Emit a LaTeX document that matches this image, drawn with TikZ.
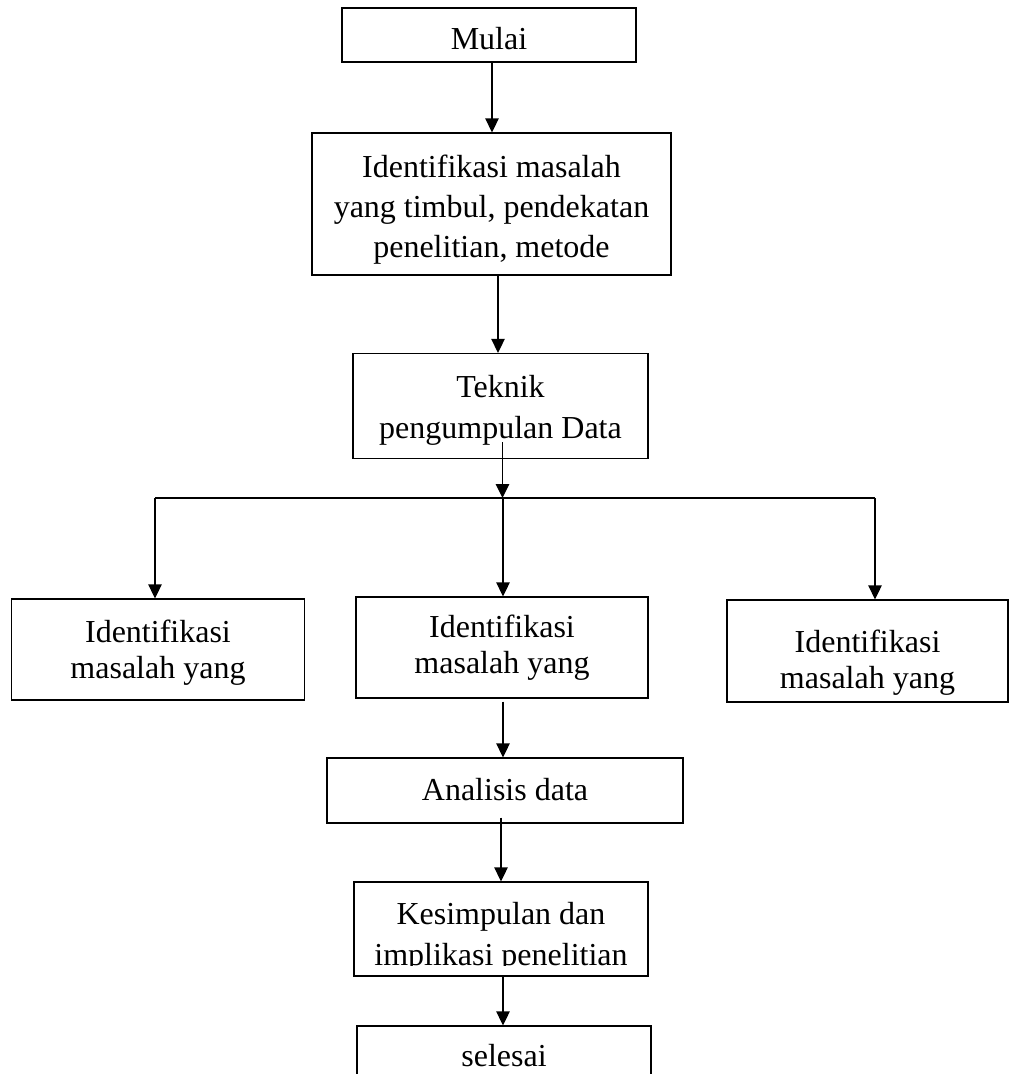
\documentclass[tikz,border=0pt]{standalone}
\usepackage{fontspec}
\setmainfont{Liberation Serif}
\usetikzlibrary{arrows.meta,calc}
\begin{document}
\begin{tikzpicture}[x=1pt,y=-1pt,
  box/.style={draw, line width=1.3pt, rectangle, inner sep=0pt},
  txt/.style={inner sep=0pt, align=center, font=\fontsize{32}{41}\selectfont},
  mtxt/.style={inner sep=0pt, align=center, font=\fontsize{32}{40}\selectfont},
  stxt/.style={inner sep=0pt, align=center, font=\fontsize{32}{36}\selectfont},
  arr/.style={line width=1.3pt, -{Triangle[length=14pt,width=13.5pt]}},
  ln/.style={line width=1.3pt}]
\useasboundingbox (0,0) rectangle (1010,1074);
\clip (0,0) rectangle (1010,1074);
% boxes
\node[box, minimum width=294pt, minimum height=54pt] (mulai) at (489,35) {};
\node[txt] (mulaiT) at (489,38.5) {Mulai};
\node[box, minimum width=359pt, minimum height=142pt] (ident) at (491.5,204) {};
\node[mtxt] (identT) at (491.5,210) {Identifikasi masalah\\yang timbul, pendekatan\\penelitian, metode};
\node[box, minimum width=295pt, minimum height=105pt] (teknik) at (500.5,406) {};
\node[txt] (teknikT) at (500.5,410.5) {Teknik\\pengumpulan Data};
\node[box, minimum width=293pt, minimum height=101pt] (lbox) at (158,649.5) {};
\node[stxt] (lboxT) at (158,653) {Identifikasi\\masalah yang};
\node[box, minimum width=292pt, minimum height=101pt] (mbox) at (502,647.5) {};
\node[stxt] (mboxT) at (502,647.5) {Identifikasi\\masalah yang};
\node[box, minimum width=281pt, minimum height=102pt] (rbox) at (867.5,651) {};
\node[stxt] (rboxT) at (867.5,662.5) {Identifikasi\\masalah yang};
\node[box, minimum width=356pt, minimum height=65pt] (ana) at (505,790.5) {};
\node[txt] (anaT) at (505,789.5) {Analisis data};
\node[box, minimum width=294pt, minimum height=94pt] (kes) at (501,929) {};
\begin{scope}
\clip (354,882) rectangle (648,965);
\node[txt] (kesT) at (501,937.5) {Kesimpulan dan\\implikasi penelitian};
\end{scope}
\node[box, minimum width=294pt, minimum height=62pt] (sel) at (504,1057) {};
\node[txt] (selT) at (504,1056) {selesai};
% connectors
\draw[arr] ([xshift=3pt]mulai.south) -- ([xshift=0.5pt]ident.north);
\draw[arr] ([xshift=6.5pt]ident.south) -- ([xshift=-2.5pt]teknik.north);
\coordinate (tk) at (502.5,442);
\coordinate (j) at (502.5,498);
\coordinate (jl) at (155,498);
\coordinate (jm) at (503,498);
\coordinate (jr) at (875,498);
\draw[arr] (tk) -- (j);
\draw[ln] (jl) -- (jr);
\draw[arr] (jl) -- (lbox.north -| jl);
\draw[arr] (jm) -- (mbox.north -| jm);
\draw[arr] (jr) -- (rbox.north -| jr);
\draw[arr] ($(mbox.south -| jm)+(0,3)$) -- (ana.north -| jm);
\draw[arr] ($(ana.south -| kes.north)+(0,-6)$) -- (kes.north);
\coordinate (ks) at ($(kes.south)+(2,0)$);
\draw[arr] (ks) -- (sel.north -| ks);
\end{tikzpicture}
\end{document}
